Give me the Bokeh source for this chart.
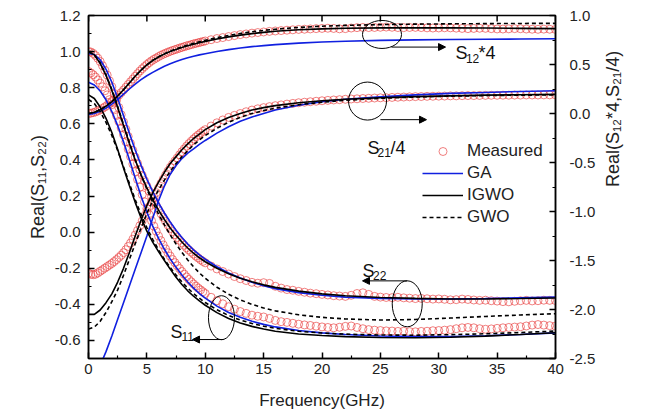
import math
from bokeh.plotting import figure
from bokeh.models import (Range1d, LinearAxis, FixedTicker, PrintfTickFormatter,
                          Legend, LegendItem, Label, Arrow, NormalHead)
from bokeh.embed import file_html
from bokeh.resources import INLINE

FONT = "Liberation Sans"
BLUE = "#1020e0"
RED = "#e83c3c"

# ---------------- axes / ticks ----------------
x_ticks = [0, 5, 10, 15, 20, 25, 30, 35, 40]
x_minor = [2.5, 7.5, 12.5, 17.5, 22.5, 27.5, 32.5, 37.5]
yl_ticks = [-0.6, -0.4, -0.2, 0.0, 0.2, 0.4, 0.6, 0.8, 1.0, 1.2]
yl_minor = [-0.7, -0.5, -0.3, -0.1, 0.1, 0.3, 0.5, 0.7, 0.9, 1.1]
yr_ticks = [-2.5, -2.0, -1.5, -1.0, -0.5, 0.0, 0.5, 1.0]
yr_minor = [-2.25, -1.75, -1.25, -0.75, -0.25, 0.25, 0.75]

# ---------------- measured data ----------------
freq_meas = [0.0, 0.2, 0.4, 0.6, 0.8, 1.0, 1.2, 1.4, 1.6, 1.8,
             2.0, 2.2, 2.4, 2.6, 2.8, 3.0, 3.2, 3.4, 3.6, 3.8,
             4.0, 4.2, 4.4, 4.6, 4.8, 5.0, 5.2, 5.4, 5.6, 5.8,
             6.0, 6.2, 6.4, 6.6, 6.8, 7.0, 7.2, 7.4, 7.6, 7.8,
             8.0, 8.2, 8.4, 8.6, 8.8, 9.0, 9.2, 9.4, 9.6, 9.8,
             10.0,
             10.5, 11.0, 11.5, 12.0, 12.5, 13.0, 13.5, 14.0, 14.5, 15.0,
             15.5, 16.0, 16.5, 17.0, 17.5, 18.0, 18.5, 19.0, 19.5, 20.0,
             20.5, 21.0, 21.5, 22.0, 22.5, 23.0, 23.5, 24.0, 24.5, 25.0,
             25.5, 26.0, 26.5, 27.0, 27.5, 28.0, 28.5, 29.0, 29.5, 30.0,
             30.5, 31.0, 31.5, 32.0, 32.5, 33.0, 33.5, 34.0, 34.5, 35.0,
             35.5, 36.0, 36.5, 37.0, 37.5, 38.0, 38.5, 39.0, 39.5, 40.0]

meas_s22 = [1.000, 0.998, 0.990, 0.978, 0.963, 0.945, 0.922, 0.897, 0.870, 0.838,
            0.805, 0.768, 0.729, 0.690, 0.650, 0.610, 0.570, 0.530, 0.491, 0.453,
            0.415, 0.381, 0.347, 0.315, 0.285, 0.255, 0.227, 0.199, 0.173, 0.149,
            0.125, 0.103, 0.081, 0.060, 0.040, 0.020, 0.003, -0.014, -0.030, -0.045,
            -0.060, -0.073, -0.087, -0.099, -0.111, -0.122, -0.133, -0.143, -0.153, -0.162,
            -0.170,
            -0.188, -0.204, -0.218, -0.232, -0.246, -0.258, -0.268, -0.278, -0.283, -0.280,
            -0.284, -0.300, -0.310, -0.318, -0.322, -0.328, -0.333, -0.338, -0.341, -0.345,
            -0.348, -0.352, -0.354, -0.356, -0.350, -0.340, -0.336, -0.345, -0.356, -0.360,
            -0.362, -0.363, -0.361, -0.364, -0.366, -0.368, -0.367, -0.369, -0.371, -0.370,
            -0.372, -0.375, -0.374, -0.371, -0.373, -0.376, -0.378, -0.377, -0.380, -0.382,
            -0.385, -0.386, -0.383, -0.380, -0.378, -0.381, -0.380, -0.377, -0.378, -0.379]

meas_s11 = [0.890, 0.882, 0.872, 0.859, 0.843, 0.825, 0.805, 0.783, 0.760, 0.734,
            0.706, 0.677, 0.646, 0.613, 0.577, 0.540, 0.501, 0.460, 0.419, 0.377,
            0.335, 0.292, 0.249, 0.208, 0.168, 0.130, 0.096, 0.063, 0.033, 0.005,
            -0.022, -0.047, -0.071, -0.093, -0.114, -0.133, -0.152, -0.169, -0.186, -0.202,
            -0.218, -0.233, -0.248, -0.262, -0.275, -0.287, -0.299, -0.310, -0.320, -0.330,
            -0.340,
            -0.361, -0.380, -0.397, -0.413, -0.427, -0.440, -0.450, -0.460, -0.466, -0.470,
            -0.478, -0.489, -0.496, -0.500, -0.505, -0.510, -0.514, -0.517, -0.521, -0.525,
            -0.528, -0.530, -0.527, -0.522, -0.520, -0.528, -0.535, -0.540, -0.543, -0.545,
            -0.547, -0.548, -0.550, -0.549, -0.551, -0.552, -0.550, -0.549, -0.546, -0.545,
            -0.543, -0.540, -0.535, -0.530, -0.528, -0.530, -0.535, -0.538, -0.536, -0.533,
            -0.530, -0.528, -0.526, -0.524, -0.520, -0.515, -0.512, -0.515, -0.518, -0.520]

meas_s12x4 = [0.000, 0.003, 0.009, 0.016, 0.026, 0.038, 0.052, 0.067, 0.083, 0.101,
              0.120, 0.141, 0.164, 0.187, 0.213, 0.240, 0.268, 0.296, 0.324, 0.352,
              0.380, 0.407, 0.433, 0.457, 0.479, 0.500, 0.519, 0.537, 0.552, 0.566,
              0.580, 0.593, 0.605, 0.615, 0.625, 0.635, 0.643, 0.651, 0.659, 0.667,
              0.675, 0.682, 0.690, 0.696, 0.703, 0.710, 0.716, 0.722, 0.728, 0.734,
              0.740,
              0.753, 0.765, 0.775, 0.785, 0.795, 0.805, 0.812, 0.820, 0.826, 0.832,
              0.838, 0.842, 0.846, 0.850, 0.854, 0.858, 0.860, 0.863, 0.866, 0.868,
              0.870, 0.868, 0.864, 0.866, 0.872, 0.876, 0.878, 0.877, 0.878, 0.880,
              0.882, 0.880, 0.877, 0.876, 0.878, 0.879, 0.877, 0.874, 0.872, 0.873,
              0.875, 0.874, 0.871, 0.868, 0.866, 0.868, 0.870, 0.869, 0.866, 0.863,
              0.862, 0.864, 0.866, 0.865, 0.862, 0.860, 0.859, 0.861, 0.860, 0.858]

meas_s21d4 = [-1.630, -1.640, -1.645, -1.640, -1.626, -1.610, -1.594, -1.578, -1.562, -1.546,
              -1.530, -1.511, -1.491, -1.469, -1.446, -1.420, -1.390, -1.357, -1.322, -1.283,
              -1.240, -1.194, -1.145, -1.096, -1.048, -1.000, -0.952, -0.904, -0.856, -0.808,
              -0.760, -0.715, -0.671, -0.629, -0.589, -0.550, -0.517, -0.485, -0.454, -0.422,
              -0.390, -0.361, -0.333, -0.307, -0.283, -0.260, -0.239, -0.219, -0.200, -0.182,
              -0.165,
              -0.128, -0.095, -0.066, -0.040, -0.019, 0.000, 0.018, 0.035, 0.048, 0.060,
              0.070, 0.080, 0.088, 0.096, 0.103, 0.110, 0.115, 0.120, 0.125, 0.130,
              0.134, 0.138, 0.141, 0.145, 0.148, 0.150, 0.153, 0.155, 0.158, 0.160,
              0.161, 0.164, 0.166, 0.168, 0.170, 0.172, 0.173, 0.175, 0.176, 0.177,
              0.178, 0.180, 0.180, 0.182, 0.183, 0.183, 0.184, 0.185, 0.186, 0.186,
              0.187, 0.187, 0.188, 0.188, 0.189, 0.189, 0.189, 0.190, 0.190, 0.190]

# ---------------- fitted models ----------------
freq_fit = [0, 0.5, 1, 1.5, 2, 2.5, 3, 3.5, 4, 4.5, 5, 5.5, 6, 6.5, 7, 7.5, 8, 8.5, 9, 9.5, 10,
            11, 12, 13, 14, 15, 16, 18, 20, 22, 25, 28, 31, 34, 37, 40]

ga_s22 = [0.990, 0.984, 0.955, 0.902, 0.830, 0.742, 0.645, 0.548, 0.455, 0.370, 0.293, 0.224,
          0.162, 0.106, 0.056, 0.010, -0.030, -0.066, -0.098, -0.126, -0.150,
          -0.192, -0.226, -0.254, -0.278, -0.297, -0.313, -0.335, -0.350, -0.360, -0.367,
          -0.370, -0.370, -0.368, -0.364, -0.360]
igwo_s22 = [1.000, 0.982, 0.935, 0.868, 0.785, 0.690, 0.590, 0.492, 0.400, 0.318, 0.245, 0.180,
            0.122, 0.070, 0.023, -0.018, -0.055, -0.088, -0.117, -0.142, -0.164,
            -0.200, -0.230, -0.255, -0.275, -0.292, -0.306, -0.327, -0.342, -0.352, -0.362,
            -0.367, -0.370, -0.370, -0.368, -0.365]
gwo_s22 = [1.000, 0.982, 0.938, 0.872, 0.790, 0.696, 0.596, 0.496, 0.402, 0.316, 0.238, 0.166,
           0.100, 0.040, -0.015, -0.066, -0.112, -0.154, -0.192, -0.226, -0.256,
           -0.305, -0.344, -0.375, -0.400, -0.420, -0.436, -0.458, -0.472, -0.481, -0.487,
           -0.484, -0.476, -0.467, -0.459, -0.452]

ga_s11 = [0.830, 0.815, 0.782, 0.733, 0.668, 0.590, 0.500, 0.402, 0.300, 0.200, 0.110, 0.033,
          -0.035, -0.095, -0.148, -0.195, -0.238, -0.276, -0.310, -0.340, -0.366,
          -0.410, -0.445, -0.472, -0.494, -0.511, -0.525, -0.545, -0.558, -0.567, -0.575,
          -0.579, -0.578, -0.574, -0.567, -0.558]
igwo_s11 = [0.760, 0.740, 0.693, 0.630, 0.552, 0.458, 0.355, 0.258, 0.165, 0.080, 0.005, -0.055,
            -0.108, -0.157, -0.205, -0.250, -0.290, -0.325, -0.355, -0.381, -0.405,
            -0.446, -0.478, -0.503, -0.522, -0.537, -0.549, -0.564, -0.573, -0.579, -0.584,
            -0.585, -0.582, -0.576, -0.567, -0.557]
gwo_s11 = [0.735, 0.712, 0.668, 0.608, 0.535, 0.452, 0.362, 0.270, 0.180, 0.098, 0.025, -0.040,
           -0.098, -0.150, -0.196, -0.238, -0.276, -0.310, -0.340, -0.366, -0.390,
           -0.430, -0.462, -0.487, -0.506, -0.521, -0.533, -0.549, -0.559, -0.565, -0.570,
           -0.571, -0.568, -0.563, -0.556, -0.548]

ga_s12x4 = [-0.010, 0.000, 0.022, 0.055, 0.095, 0.145, 0.198, 0.250, 0.300, 0.345, 0.385, 0.420,
            0.452, 0.482, 0.508, 0.530, 0.550, 0.568, 0.585, 0.598, 0.610,
            0.632, 0.652, 0.668, 0.682, 0.693, 0.703, 0.718, 0.730, 0.738, 0.746,
            0.751, 0.755, 0.758, 0.760, 0.762]
igwo_s12x4 = [0.000, 0.012, 0.038, 0.076, 0.122, 0.178, 0.243, 0.312, 0.380, 0.443, 0.497, 0.541,
              0.577, 0.607, 0.632, 0.654, 0.673, 0.691, 0.707, 0.722, 0.736,
              0.761, 0.782, 0.800, 0.815, 0.828, 0.839, 0.854, 0.864, 0.870, 0.874,
              0.875, 0.874, 0.872, 0.869, 0.866]
gwo_s12x4 = [0.000, 0.012, 0.038, 0.076, 0.122, 0.178, 0.243, 0.312, 0.380, 0.443, 0.497, 0.542,
             0.579, 0.610, 0.636, 0.659, 0.680, 0.699, 0.716, 0.732, 0.747,
             0.774, 0.797, 0.817, 0.834, 0.848, 0.860, 0.878, 0.891, 0.899, 0.907,
             0.912, 0.915, 0.917, 0.919, 0.920]

ga_s21d4 = [-2.850, -2.720, -2.570, -2.430, -2.270, -2.100, -1.930, -1.760, -1.590, -1.420, -1.250, -1.070,
            -0.890, -0.740, -0.620, -0.530, -0.460, -0.405, -0.360, -0.315, -0.275,
            -0.200, -0.135, -0.080, -0.035, 0.000, 0.035, 0.085, 0.120, 0.145, 0.170,
            0.190, 0.205, 0.215, 0.225, 0.232]
igwo_s21d4 = [-2.050, -2.050, -2.005, -1.930, -1.840, -1.720, -1.580, -1.420, -1.250, -1.090, -0.940, -0.810,
              -0.700, -0.600, -0.510, -0.440, -0.370, -0.310, -0.255, -0.210, -0.165,
              -0.095, -0.040, 0.000, 0.035, 0.060, 0.080, 0.110, 0.130, 0.145, 0.160,
              0.172, 0.180, 0.187, 0.191, 0.195]
gwo_s21d4 = [-2.200, -2.180, -2.120, -2.030, -1.920, -1.800, -1.650, -1.490, -1.330, -1.170, -1.020, -0.890,
             -0.780, -0.680, -0.590, -0.510, -0.440, -0.380, -0.320, -0.270, -0.225,
             -0.150, -0.090, -0.040, 0.000, 0.030, 0.055, 0.090, 0.115, 0.135, 0.155,
             0.168, 0.177, 0.183, 0.187, 0.190]

legend_labels = ["Measured", "GA", "IGWO", "GWO"]

# ---------------- figure ----------------
p = figure(width=642, height=412, output_backend="svg", toolbar_location=None,
           x_range=Range1d(0, 40), y_range=Range1d(-0.7, 1.2),
           min_border_left=88, min_border_right=87, min_border_top=15, min_border_bottom=52)
p.extra_y_ranges = {"right": Range1d(-2.5, 1.0)}
p.grid.visible = False
p.outline_line_color = "black"
p.outline_line_width = 1.5
p.background_fill_color = "white"
p.border_fill_color = "white"


def style_axis(ax, ticks, minor):
    ax.ticker = FixedTicker(ticks=ticks, minor_ticks=minor)
    ax.major_tick_in = 6
    ax.major_tick_out = 0
    ax.minor_tick_in = 3
    ax.minor_tick_out = 0
    ax.axis_line_color = "black"
    ax.axis_line_width = 1.5
    ax.major_tick_line_color = "black"
    ax.major_tick_line_width = 1.5
    ax.minor_tick_line_color = "black"
    ax.minor_tick_line_width = 1.2
    ax.major_label_text_font = FONT
    ax.major_label_text_font_size = "15px"
    ax.major_label_text_color = "#222222"
    ax.axis_label_text_font = FONT
    ax.axis_label_text_font_size = "18px"
    ax.axis_label_text_font_style = "normal"
    ax.axis_label_text_color = "#222222"


xax = p.xaxis[0]
style_axis(xax, x_ticks, x_minor)
xax.axis_label = "Frequency(GHz)"
xax.major_label_standoff = 5
xax.axis_label_standoff = 14
xax.axis_label_text_font_size = "17px"

yax = p.yaxis[0]
style_axis(yax, yl_ticks, yl_minor)
yax.formatter = PrintfTickFormatter(format="%.1f")
yax.axis_label = "Real(S\u2081\u2081,S\u2082\u2082)"
yax.major_label_standoff = 8
yax.axis_label_standoff = 4

rax = LinearAxis(y_range_name="right")
style_axis(rax, yr_ticks, yr_minor)
rax.formatter = PrintfTickFormatter(format="%.1f")
rax.axis_label = "Real(S\u2081\u2082*4,S\u2082\u2081/4)"
rax.axis_label_orientation = math.pi / 2
rax.major_label_standoff = 14
rax.axis_label_standoff = 15
p.add_layout(rax, "right")

# ticks along the top edge of the frame (no labels there)
top_tick_len = 0.033
p.segment(x0=x_ticks, y0=[1.2] * len(x_ticks), x1=x_ticks,
          y1=[1.2 - top_tick_len] * len(x_ticks), line_color="black", line_width=1.5)

# ---------------- glyphs ----------------
meas_kw = dict(marker="circle", size=8, fill_alpha=0, line_color=RED, line_alpha=0.65, line_width=1)
r_meas = p.scatter(freq_meas, meas_s22, **meas_kw)
p.scatter(freq_meas, meas_s11, **meas_kw)
p.scatter(freq_meas, meas_s12x4, y_range_name="right", **meas_kw)
p.scatter(freq_meas, meas_s21d4, y_range_name="right", **meas_kw)

ga_kw = dict(line_color=BLUE, line_width=1.6)
ig_kw = dict(line_color="black", line_width=1.6)
gw_kw = dict(line_color="black", line_width=1.6, line_dash="4 3")

r_ga = p.line(freq_fit, ga_s22, **ga_kw)
p.line(freq_fit, ga_s11, **ga_kw)
p.line(freq_fit, ga_s12x4, y_range_name="right", **ga_kw)
p.line(freq_fit, ga_s21d4, y_range_name="right", **ga_kw)

r_ig = p.line(freq_fit, igwo_s22, **ig_kw)
p.line(freq_fit, igwo_s11, **ig_kw)
p.line(freq_fit, igwo_s12x4, y_range_name="right", **ig_kw)
p.line(freq_fit, igwo_s21d4, y_range_name="right", **ig_kw)

r_gw = p.line(freq_fit, gwo_s22, **gw_kw)
p.line(freq_fit, gwo_s11, **gw_kw)
p.line(freq_fit, gwo_s12x4, y_range_name="right", **gw_kw)
p.line(freq_fit, gwo_s21d4, y_range_name="right", **gw_kw)

# ---------------- legend ----------------
legend = Legend(items=[LegendItem(label=legend_labels[0], renderers=[r_meas]),
                       LegendItem(label=legend_labels[1], renderers=[r_ga]),
                       LegendItem(label=legend_labels[2], renderers=[r_ig]),
                       LegendItem(label=legend_labels[3], renderers=[r_gw])],
                location=(334, 131), glyph_width=41, glyph_height=20, label_height=20,
                spacing=2, padding=0, margin=0, label_standoff=4,
                label_text_font=FONT, label_text_font_size="17px", label_text_color="#222222",
                border_line_alpha=0, background_fill_alpha=0)
p.add_layout(legend)

# ---------------- annotations (ellipses, arrows, labels) ----------------
ell_x = [25.14, 23.9, 27.3, 11.39]
ell_y = [1.095, 0.726, -0.397, -0.474]
ell_w = [39, 38, 30, 26]
ell_h = [28, 38, 46, 44]
p.ellipse(x=ell_x, y=ell_y, width=ell_w, height=ell_h, width_units="screen",
          height_units="screen", fill_alpha=0, line_color="black", line_width=1)

arrows = [(25.95, 30.58, 1.025), (25.0, 28.95, 0.623), (27.3, 23.47, -0.270), (11.56, 8.91, -0.595)]
for xs, xe, ya in arrows:
    p.add_layout(Arrow(end=NormalHead(size=7, fill_color="black", line_color="black", line_width=1),
                       x_start=xs, y_start=ya, x_end=xe, y_end=ya,
                       line_color="black", line_width=1))


def add_label(x, y, text, size, dx=0, dy=0):
    p.add_layout(Label(x=x, y=y, text=text, x_offset=dx, y_offset=dy,
                       text_font=FONT, text_font_size=size, text_color="#111111",
                       text_align="left", text_baseline="alphabetic"))


add_label(31.43, 0.99, "S", "18px")
add_label(31.43, 0.99, "12", "12px", 10.5, -5)
add_label(31.43, 0.99, "*4", "18px", 23)

add_label(23.9, 0.468, "S", "18px")
add_label(23.9, 0.468, "21", "12px", 10, -5)
add_label(23.9, 0.468, "/4", "18px", 23)

add_label(23.47, -0.215, "S", "18px")
add_label(23.47, -0.215, "22", "12px", 10.5, -5)

add_label(7.02, -0.551, "S", "18px")
add_label(7.02, -0.551, "11", "12px", 11, -5)

open("out.html", "w").write(file_html(p, INLINE))
